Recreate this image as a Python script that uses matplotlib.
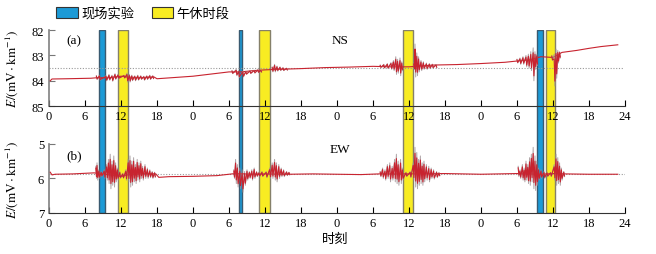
import matplotlib

matplotlib.use("Agg")
import matplotlib.pyplot as plt
import numpy as np
from matplotlib.patches import Patch

plt.rcParams["font.family"] = ["Liberation Serif", "Noto Sans CJK SC"]
plt.rcParams["mathtext.fontset"] = "stix"

# ---------- data (hours since start of day 1, 4 days) ----------
XTICKS = list(range(0, 97, 6))
XLABELS = ["0", "6", "12", "18"] * 4 + ["24"]

FIELD_SPANS = [(8.3, 9.3), (31.6, 32.2), (81.4, 82.3)]      # 现场实验
NOON_SPANS = [(11.5, 13.2), (35.0, 36.9), (59.0, 60.7), (82.8, 84.3)]  # 午休时段

# NS component: slow baseline
ns_t = [0.2, 0.5, 3, 7, 8, 10, 12, 13, 15, 17.5, 18, 24, 30, 32, 34, 36, 38, 42,
        46, 50, 54, 57, 60, 64, 68, 72, 76, 78, 80, 82, 84, 85.5, 88, 90, 92, 94.8]
ns_v = [84.0, 83.93, 83.92, 83.9, 83.88, 83.88, 83.82, 83.85, 83.88, 83.85, 83.92,
        83.82, 83.65, 83.65, 83.6, 83.57, 83.55, 83.52, 83.48, 83.46, 83.43, 83.45,
        83.45, 83.38, 83.36, 83.32, 83.27, 83.22, 83.18, 83.05, 83.08, 82.88, 82.8,
        82.72, 82.65, 82.58]
# NS bursts: (hour, upper value, lower value)
ns_spikes = [
    (7.9, 83.8, 83.95), (8.4, 83.78, 83.98), (9.5, 83.8, 84.0), (10.0, 83.75, 83.98),
    (10.5, 83.78, 84.02), (11.0, 83.72, 83.95), (11.5, 83.75, 83.92), (12.5, 83.78, 83.9),
    (13.0, 83.7, 84.05), (13.4, 83.75, 84.05), (13.8, 83.78, 84.0), (14.3, 83.8, 84.0),
    (14.8, 83.78, 83.98), (15.3, 83.8, 83.95), (15.8, 83.82, 83.98), (16.3, 83.8, 83.95),
    (16.8, 83.78, 83.95), (17.3, 83.8, 83.92),
    (30.5, 83.6, 83.72), (31.2, 83.55, 83.8), (31.6, 83.6, 83.88), (32.3, 83.62, 83.85),
    (32.8, 83.62, 83.75), (33.5, 83.6, 83.72), (34.2, 83.58, 83.7), (34.8, 83.56, 83.68),
    (35.3, 83.58, 83.66), (37.2, 83.45, 83.65), (37.6, 83.35, 83.65), (38.0, 83.42, 83.62),
    (38.5, 83.45, 83.6), (39.0, 83.48, 83.6), (39.6, 83.5, 83.58),
    (55.2, 83.38, 83.48), (55.8, 83.35, 83.5), (56.4, 83.32, 83.52), (57.0, 83.28, 83.55),
    (57.4, 83.2, 83.6), (57.8, 83.05, 83.75), (58.1, 83.15, 83.7), (58.5, 83.1, 83.8),
    (58.8, 83.25, 83.6), (60.8, 83.3, 83.55), (61.0, 82.55, 83.85), (61.3, 82.9, 83.8),
    (61.6, 83.05, 83.65), (62.0, 83.2, 83.6), (62.4, 83.25, 83.55), (62.9, 83.3, 83.55),
    (63.4, 83.32, 83.52), (63.9, 83.34, 83.5), (64.5, 83.36, 83.48),
    (78.0, 83.15, 83.3), (78.5, 83.1, 83.35), (79.0, 83.05, 83.35), (79.5, 83.0, 83.45),
    (79.9, 82.95, 83.5), (80.3, 82.85, 83.6), (80.7, 82.7, 84.0), (81.0, 82.85, 83.55),
    (81.3, 82.95, 83.4), (83.8, 83.0, 83.2), (84.2, 82.95, 84.2), (84.5, 82.75, 83.9),
    (84.8, 82.8, 83.3), (85.1, 82.85, 83.1),
]
NS_REF = 83.5

# EW component
ew_t = [0.2, 0.5, 1, 4, 7.5, 9, 12, 13, 16, 17.8, 18.3, 20, 24, 28, 30, 31, 34, 36,
        40, 44, 48, 52, 55, 60, 66, 72, 78, 82, 84, 86, 90, 94.8]
ew_v = [5.82, 5.9, 5.88, 5.87, 5.84, 5.87, 5.95, 5.9, 5.86, 5.87, 5.97, 5.95, 5.94,
        5.92, 5.88, 5.86, 5.88, 5.87, 5.88, 5.87, 5.88, 5.89, 5.87, 5.87, 5.86, 5.88,
        5.86, 5.88, 5.86, 5.87, 5.88, 5.88]
ew_spikes = [
    (7.8, 5.65, 6.0), (8.0, 5.55, 6.05), (8.3, 5.75, 6.0), (8.7, 5.8, 5.95), (9.2, 5.75, 6.0),
    (9.6, 5.6, 6.05), (9.9, 5.45, 6.15), (10.2, 5.3, 6.3), (10.5, 5.5, 6.2), (10.8, 5.35, 6.25),
    (11.1, 5.55, 6.1), (11.4, 5.7, 6.05), (11.8, 5.8, 6.0), (12.3, 5.85, 6.0), (12.8, 5.75, 6.05),
    (13.2, 5.45, 6.1), (13.5, 5.35, 6.25), (13.8, 5.5, 6.2), (14.1, 5.4, 6.1), (14.4, 5.6, 6.15),
    (14.7, 5.45, 6.05), (15.0, 5.55, 6.1), (15.3, 5.5, 6.0), (15.6, 5.65, 6.05), (16.0, 5.6, 6.0),
    (16.4, 5.7, 6.0), (16.8, 5.75, 5.98), (17.2, 5.8, 6.0), (17.6, 5.82, 5.97),
    (30.8, 5.75, 6.0), (31.1, 5.45, 6.15), (31.4, 5.6, 6.25), (31.8, 5.7, 6.3), (32.2, 5.75, 6.4),
    (32.6, 5.8, 6.2), (33.0, 5.75, 6.05), (33.4, 5.8, 6.0), (33.8, 5.75, 6.05), (34.2, 5.7, 6.0),
    (34.6, 5.8, 5.95), (35.0, 5.82, 5.95), (35.5, 5.8, 5.95), (36.2, 5.8, 5.98), (36.8, 5.7, 6.0),
    (37.2, 5.55, 6.0), (37.6, 5.45, 6.05), (37.9, 5.55, 6.1), (38.3, 5.6, 6.0), (38.7, 5.7, 5.95),
    (39.1, 5.75, 5.95), (39.6, 5.8, 5.92), (40.0, 5.82, 5.9),
    (55.2, 5.8, 5.95), (55.6, 5.7, 6.0), (56.0, 5.75, 6.05), (56.4, 5.6, 6.0), (56.8, 5.55, 6.1),
    (57.2, 5.65, 6.05), (57.6, 5.45, 6.1), (57.9, 5.3, 6.15), (58.2, 5.5, 6.2), (58.6, 5.45, 6.15),
    (58.9, 5.7, 6.05), (59.5, 5.82, 5.95), (60.2, 5.8, 5.98), (60.7, 5.55, 6.05), (61.0, 5.1, 6.25),
    (61.3, 5.25, 6.3), (61.6, 5.45, 6.2), (61.9, 5.35, 6.15), (62.2, 5.55, 6.2), (62.5, 5.5, 6.1),
    (62.9, 5.6, 6.05), (63.3, 5.65, 6.1), (63.7, 5.7, 6.0), (64.1, 5.75, 6.02), (64.6, 5.8, 5.98),
    (65.0, 5.83, 5.93),
    (78.2, 5.65, 5.95), (78.5, 5.75, 6.0), (78.9, 5.6, 6.05), (79.2, 5.7, 6.1), (79.5, 5.5, 6.05),
    (79.8, 5.6, 6.15), (80.1, 5.4, 6.2), (80.4, 5.3, 6.1), (80.7, 5.1, 6.3), (81.0, 5.35, 6.35),
    (81.3, 5.5, 6.2), (81.6, 5.7, 6.05), (82.0, 5.75, 6.0), (82.5, 5.8, 6.0), (83.0, 5.82, 5.95),
    (83.6, 5.82, 5.95), (84.2, 5.6, 6.05), (84.5, 5.3, 6.2), (84.8, 5.4, 6.15), (85.1, 5.55, 6.2),
    (85.4, 5.7, 6.05), (85.8, 5.8, 5.95),
]
EW_REF = 5.88

RED = "#c8232f"
GREY = "#9c8f92"
BLUE = "#1c9ad6"
YELLOW = "#f8ec22"


def draw_trace(ax, t, v, spikes):
    ax.plot(t, v, color=RED, lw=0.8, zorder=3)
    s = np.array(spikes)
    xs = np.repeat(s[:, 0], 2) + np.tile([0.0, 0.12], len(s))
    lo_hi = s[:, 1:].ravel()
    # break the zigzag between separate bursts
    gap = np.where(np.diff(s[:, 0]) > 1.5)[0]
    xs = np.insert(xs, 2 * gap + 2, np.nan)
    lo_hi = np.insert(lo_hi, 2 * gap + 2, np.nan)
    ax.plot(xs, lo_hi, color=GREY, lw=0.7, alpha=0.8, zorder=3)
    mid = s[:, 1:].mean(axis=1, keepdims=True)
    inner = (mid + 0.7 * (s[:, 1:] - mid)).ravel()
    inner = np.insert(inner, 2 * gap + 2, np.nan)
    ax.plot(xs, inner, color=RED, lw=0.8, zorder=4)


def style(ax, ylim, yticks):
    ax.set_xlim(0, 96)
    ax.set_ylim(*ylim)
    ax.set_xticks(XTICKS)
    ax.set_xticklabels(XLABELS, fontsize=9)
    ax.set_yticks(yticks)
    ax.tick_params(axis="y", labelsize=9, direction="in", length=4, color="#777777")
    ax.tick_params(axis="x", direction="in", length=4, pad=3)
    for side in ("top", "right"):
        ax.spines[side].set_visible(False)
    ax.spines["left"].set_color("#808080")
    ax.spines["left"].set_linewidth(1.2)
    ax.spines["bottom"].set_color("#333333")
    ax.patch.set_alpha(0)
    ax.set_ylabel(r"$E/(\mathrm{mV}\cdot\mathrm{km}^{-1})$", fontsize=9.5)
    ax.yaxis.set_label_coords(-0.05, 0.5)


fig = plt.figure(figsize=(6.56, 2.55), dpi=100)
L, W = 0.0747, 0.878

# shaded periods span both panels
ax_bg = fig.add_axes([L, 0.161, W, 0.717], zorder=0)
ax_bg.set_xlim(0, 96)
ax_bg.axis("off")
for a, b in FIELD_SPANS:
    ax_bg.axvspan(a, b, facecolor=BLUE, edgecolor="#3a5a70", lw=1.0)
for a, b in NOON_SPANS:
    ax_bg.axvspan(a, b, facecolor=YELLOW, edgecolor="#85806a", lw=1.0)

ax_a = fig.add_axes([L, 0.580, W, 0.298], zorder=1)
ax_b = fig.add_axes([L, 0.161, W, 0.271], zorder=1)

draw_trace(ax_a, ns_t, ns_v, ns_spikes)
ax_a.axhline(NS_REF, xmax=0.998, color="#999999", lw=0.8, ls=(0, (1, 1.5)), zorder=2)
style(ax_a, (85, 82), [82, 83, 84, 85])
ax_a.text(0.031, 0.86, "(a)", transform=ax_a.transAxes, fontsize=9.5, va="center")
ax_a.text(0.505, 0.87, "NS", transform=ax_a.transAxes, fontsize=9.5, ha="center", va="center")

draw_trace(ax_b, ew_t, ew_v, ew_spikes)
ax_b.axhline(EW_REF, color="#999999", lw=0.8, ls=(0, (1, 1.5)), zorder=2)
style(ax_b, (7, 5), [5, 6, 7])
ax_b.text(0.03, 0.83, "(b)", transform=ax_b.transAxes, fontsize=9.5, va="center")
ax_b.text(0.505, 0.93, "EW", transform=ax_b.transAxes, fontsize=9.5, ha="center", va="center")

fig.text(0.511, 0.059, "时刻", fontsize=9.5, ha="center", va="center")

handles = [Patch(facecolor=BLUE, edgecolor="#333333", lw=0.8, label="现场实验"),
           Patch(facecolor=YELLOW, edgecolor="#333333", lw=0.8, label="午休时段")]
fig.legend(handles=handles, loc="upper left", bbox_to_anchor=(0.074, 1.0), ncol=2,
           frameon=False, fontsize=9.5, handlelength=1.6, handleheight=0.9,
           handletextpad=0.3, columnspacing=1.3, borderaxespad=0.2)

fig.savefig("out.png", dpi=100)
